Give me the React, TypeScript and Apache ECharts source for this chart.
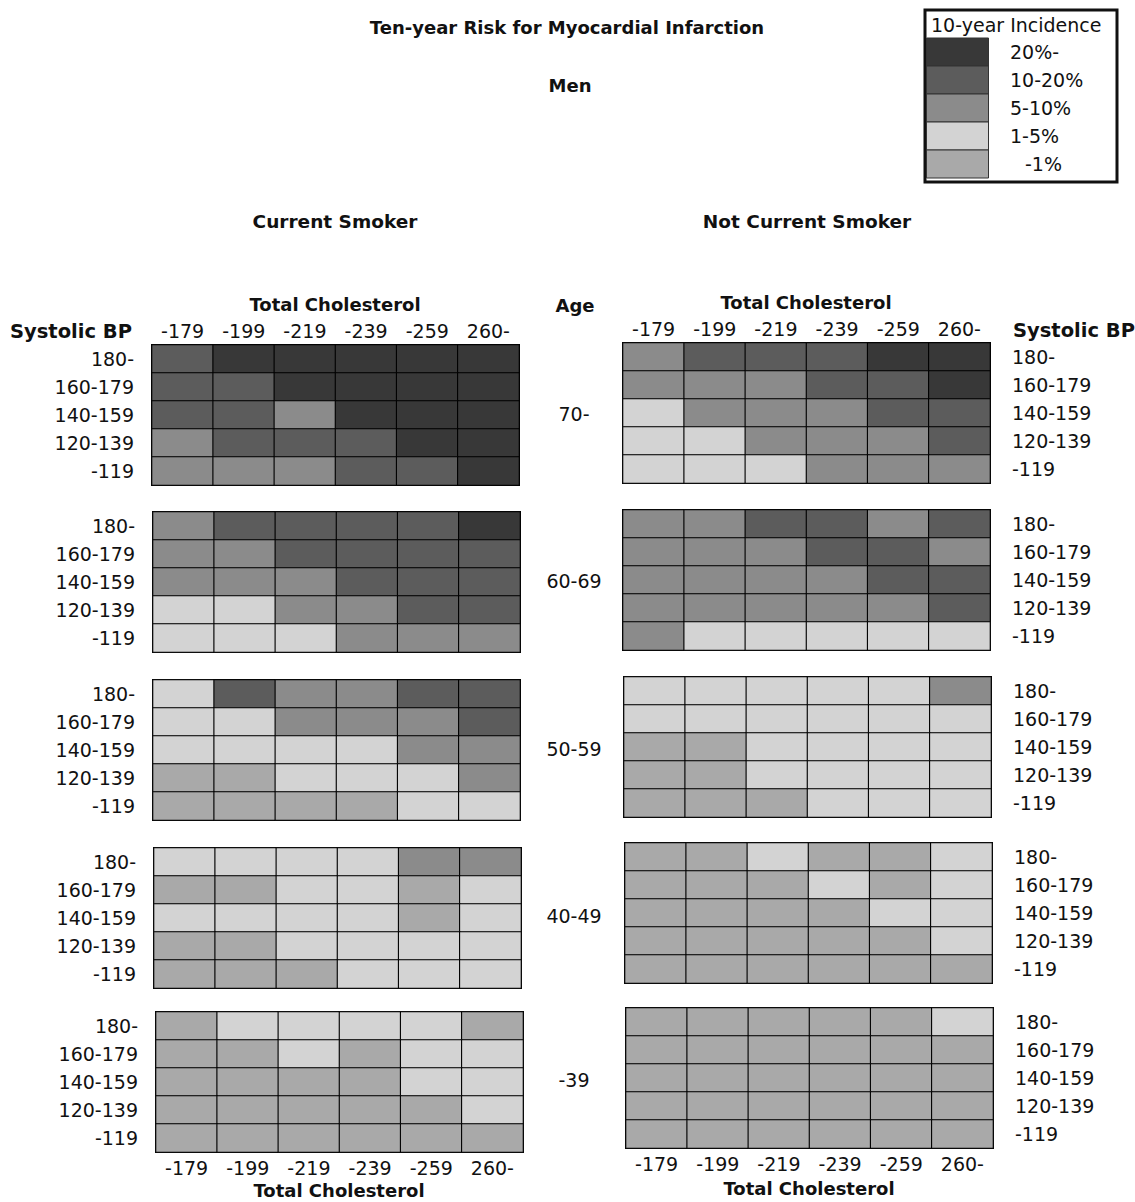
import React, { useEffect, useRef } from "react";
import * as echarts from "echarts";

// ---- data ----
const cholesterol = ["-179", "-199", "-219", "-239", "-259", "260-"];
const systolicBP = ["180-", "160-179", "140-159", "120-139", "-119"];
const ageGroups = ["70-", "60-69", "50-59", "40-49", "-39"];
// level index: 0 = -1%, 1 = 1-5%, 2 = 5-10%, 3 = 10-20%, 4 = 20%-
const incidenceLabels = ["-1%", "1-5%", "5-10%", "10-20%", "20%-"];
const levelColors = ["#a9a9a9", "#d3d3d3", "#8b8b8b", "#5c5c5c", "#383838"];

// rows: BP 180- (top) ... -119 (bottom); cols: cholesterol -179 ... 260-
const smoker70 = [
  [3, 4, 4, 4, 4, 4],
  [3, 3, 4, 4, 4, 4],
  [3, 3, 2, 4, 4, 4],
  [2, 3, 3, 3, 4, 4],
  [2, 2, 2, 3, 3, 4],
];
const smoker60 = [
  [2, 3, 3, 3, 3, 4],
  [2, 2, 3, 3, 3, 3],
  [2, 2, 2, 3, 3, 3],
  [1, 1, 2, 2, 3, 3],
  [1, 1, 1, 2, 2, 2],
];
const smoker50 = [
  [1, 3, 2, 2, 3, 3],
  [1, 1, 2, 2, 2, 3],
  [1, 1, 1, 1, 2, 2],
  [0, 0, 1, 1, 1, 2],
  [0, 0, 0, 0, 1, 1],
];
const smoker40 = [
  [1, 1, 1, 1, 2, 2],
  [0, 0, 1, 1, 0, 1],
  [1, 1, 1, 1, 0, 1],
  [0, 0, 1, 1, 1, 1],
  [0, 0, 0, 1, 1, 1],
];
const smoker39 = [
  [0, 1, 1, 1, 1, 0],
  [0, 0, 1, 0, 1, 1],
  [0, 0, 0, 0, 1, 1],
  [0, 0, 0, 0, 0, 1],
  [0, 0, 0, 0, 0, 0],
];
const nonSmoker70 = [
  [2, 3, 3, 3, 4, 4],
  [2, 2, 2, 3, 3, 4],
  [1, 2, 2, 2, 3, 3],
  [1, 1, 2, 2, 2, 3],
  [1, 1, 1, 2, 2, 2],
];
const nonSmoker60 = [
  [2, 2, 3, 3, 2, 3],
  [2, 2, 2, 3, 3, 2],
  [2, 2, 2, 2, 3, 3],
  [2, 2, 2, 2, 2, 3],
  [2, 1, 1, 1, 1, 1],
];
const nonSmoker50 = [
  [1, 1, 1, 1, 1, 2],
  [1, 1, 1, 1, 1, 1],
  [0, 0, 1, 1, 1, 1],
  [0, 0, 1, 1, 1, 1],
  [0, 0, 0, 1, 1, 1],
];
const nonSmoker40 = [
  [0, 0, 1, 0, 0, 1],
  [0, 0, 0, 1, 0, 1],
  [0, 0, 0, 0, 1, 1],
  [0, 0, 0, 0, 0, 1],
  [0, 0, 0, 0, 0, 0],
];
const nonSmoker39 = [
  [0, 0, 0, 0, 0, 1],
  [0, 0, 0, 0, 0, 0],
  [0, 0, 0, 0, 0, 0],
  [0, 0, 0, 0, 0, 0],
  [0, 0, 0, 0, 0, 0],
];

const smokerPanels = [smoker70, smoker60, smoker50, smoker40, smoker39];
const nonSmokerPanels = [nonSmoker70, nonSmoker60, nonSmoker50, nonSmoker40, nonSmoker39];

// ---- layout ----
const FONT = "DejaVu Sans";
const INK = "#111";
const leftX = [152, 153, 153, 154, 156];
const rightX = [623, 623, 624, 625, 626];
const leftY = [345, 512, 680, 848, 1012];
const rightY = [343, 510, 677, 843, 1008];
const PW = 367;
const PH = 140;

function toCells(m: number[][]) {
  const out: number[][] = [];
  m.forEach((row, r) => row.forEach((v, c) => out.push([c, r, v])));
  return out;
}

function txt(text: string, x: number, y: number, size: number, bold: boolean, align = "center") {
  return {
    type: "text",
    silent: true,
    style: {
      text,
      x,
      y,
      fill: INK,
      fontFamily: FONT,
      fontSize: size,
      fontWeight: bold ? "bold" : "normal",
      textAlign: align,
      textVerticalAlign: "middle",
    },
  };
}

export default function App() {
  const ref = useRef<HTMLDivElement>(null);
  useEffect(() => {
    if (!ref.current) return;
    const chart = echarts.init(ref.current, null, { renderer: "svg" });
    const grids: any[] = [];
    const xAxes: any[] = [];
    const yAxes: any[] = [];
    const series: any[] = [];
    const addPanel = (m: number[][], ageIdx: number, side: "L" | "R") => {
      const gi = grids.length;
      grids.push({
        left: side === "L" ? leftX[ageIdx] : rightX[ageIdx],
        top: side === "L" ? leftY[ageIdx] : rightY[ageIdx],
        width: PW,
        height: PH,
        show: true,
        borderColor: "#000",
        borderWidth: 2,
        backgroundColor: "transparent",
      });
      const isTop = ageIdx === 0;
      const isBottom = ageIdx === ageGroups.length - 1;
      xAxes.push({
        type: "category",
        gridIndex: gi,
        data: cholesterol,
        position: isTop ? "top" : "bottom",
        axisLine: { show: false },
        axisTick: { show: false },
        splitLine: { show: false },
        axisLabel: {
          show: isTop || isBottom,
          interval: 0,
          margin: isTop ? 5 : 6,
          color: INK,
          fontFamily: FONT,
          fontSize: 19,
        },
      });
      yAxes.push({
        type: "category",
        gridIndex: gi,
        data: systolicBP,
        inverse: true,
        position: side === "L" ? "left" : "right",
        axisLine: { show: false },
        axisTick: { show: false },
        splitLine: { show: false },
        axisLabel: {
          show: true,
          interval: 0,
          margin: side === "L" ? 18 : 22,
          color: INK,
          fontFamily: FONT,
          fontSize: 19,
        },
      });
      series.push({
        type: "heatmap",
        xAxisIndex: gi,
        yAxisIndex: gi,
        data: toCells(m),
        itemStyle: { borderColor: "#000", borderWidth: 1.1 },
        emphasis: { disabled: true },
      });
    };
    smokerPanels.forEach((m, i) => addPanel(m, i, "L"));
    nonSmokerPanels.forEach((m, i) => addPanel(m, i, "R"));

    const graphics: any[] = [
      txt("Ten-year Risk for Myocardial Infarction", 567, 27, 18, true),
      txt("Men", 570, 85, 18, true),
      txt("Current Smoker", 335, 221, 18.5, true),
      txt("Not Current Smoker", 807, 221, 18.5, true),
      txt("Total Cholesterol", 335, 304, 18, true),
      txt("Total Cholesterol", 806, 302, 18, true),
      txt("Age", 575, 305, 18, true),
      txt("Systolic BP", 10, 331, 19.5, true, "left"),
      txt("Systolic BP", 1013, 330, 19.5, true, "left"),
      txt("Total Cholesterol", 339, 1190, 18, true),
      txt("Total Cholesterol", 809, 1188, 18, true),
    ];
    ageGroups.forEach((a, i) => {
      const cy = (leftY[i] + rightY[i]) / 2 + PH / 2;
      graphics.push(txt(a, 574, cy, 19, false));
    });
    // legend box
    graphics.push({
      type: "rect",
      silent: true,
      shape: { x: 925, y: 10, width: 192, height: 172 },
      style: { fill: "#fff", stroke: INK, lineWidth: 3 },
    });
    graphics.push(txt("10-year Incidence", 931, 25, 19, false, "left"));
    const order = [4, 3, 2, 1, 0];
    order.forEach((lv, k) => {
      const y = 38 + k * 28;
      graphics.push({
        type: "rect",
        silent: true,
        shape: { x: 926.5, y, width: 62, height: 28 },
        style: { fill: levelColors[lv], stroke: "#333", lineWidth: 1 },
      });
      const label = incidenceLabels[lv];
      graphics.push(txt(label, label.startsWith("-") ? 1025 : 1010, y + 14, 19, false, "left"));
    });

    chart.setOption({
      animation: false,
      backgroundColor: "#fff",
      grid: grids,
      xAxis: xAxes,
      yAxis: yAxes,
      visualMap: {
        type: "piecewise",
        show: false,
        dimension: 2,
        seriesIndex: series.map((_, i) => i),
        pieces: levelColors.map((color, v) => ({ value: v, color, label: incidenceLabels[v] })),
      },
      series,
      graphic: graphics,
    });
    return () => chart.dispose();
  }, []);
  return (
    <div
      ref={ref}
      style={{ position: "absolute", left: 0, top: 0, width: 1135, height: 1202, background: "#fff" }}
    />
  );
}
